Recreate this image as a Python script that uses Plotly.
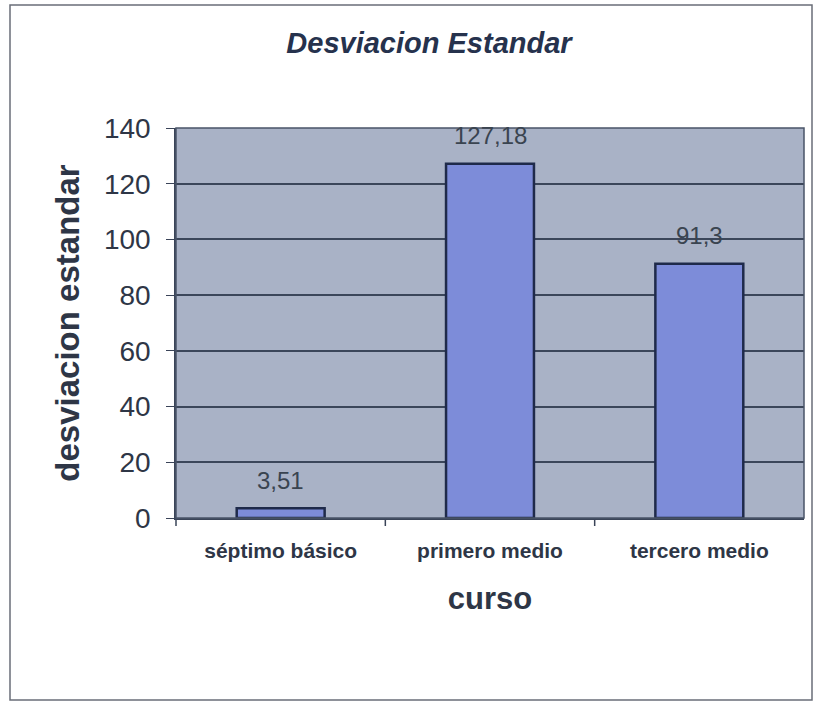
import plotly.graph_objects as go

# Standard deviation per course
cursos = ["séptimo básico", "primero medio", "tercero medio"]
desviacion = [3.51, 127.18, 91.3]
y_ticks = [0, 20, 40, 60, 80, 100, 120, 140]

etiquetas = [str(v).replace(".", ",") for v in desviacion]

FONT = "Liberation Sans, Arial, sans-serif"
W, H = 817, 703
L, R, T, B = 176, 13, 128, 185
pw, ph = W - L - R, H - T - B
Y_MAX = 140


def px_x(x):
    return (x - L) / pw


def px_y(y):
    return (H - B - y) / ph


fig = go.Figure(
    go.Bar(
        x=cursos,
        y=desviacion,
        width=0.42,
        marker=dict(color="#7d8cd9", line=dict(color="#1f2a4a", width=2.5)),
    )
)

# value labels above each bar
for c, v, t in zip(cursos, desviacion, etiquetas):
    fig.add_annotation(
        x=c, y=v, text=t, showarrow=False,
        xanchor="center", yanchor="middle", yshift=28,
        font=dict(family=FONT, size=24, color="#3a4450"),
    )

fig.update_layout(
    width=W,
    height=H,
    margin=dict(l=L, r=R, t=T, b=B),
    paper_bgcolor="white",
    plot_bgcolor="#a9b2c6",
    showlegend=False,
    title=dict(
        text="<b><i>Desviacion Estandar</i></b>",
        x=429 / W,
        xanchor="center",
        y=1 - 43 / H,
        yanchor="middle",
        font=dict(family=FONT, size=29, color="#26324d"),
    ),
)

fig.update_xaxes(
    type="category",
    showgrid=False,
    showline=True,
    linecolor="#3a4458",
    linewidth=1.5,
    ticks="",
    tickfont=dict(family=FONT, size=21, color="#2e3646"),
    tickvals=cursos,
    ticktext=[f"<b>{c}</b>" for c in cursos],
    title=dict(
        text="<b>curso</b>",
        font=dict(family=FONT, size=31, color="#2e3646"),
        standoff=26,
    ),
    ticklabelstandoff=13,
)

fig.update_yaxes(
    range=[0, Y_MAX],
    tickvals=y_ticks,
    showgrid=True,
    gridcolor="#3b465a",
    gridwidth=1.5,
    zeroline=False,
    showline=True,
    linecolor="#3a4458",
    linewidth=1.5,
    ticks="outside",
    ticklen=8,
    tickcolor="#3a4458",
    tickfont=dict(family=FONT, size=28, color="#2e3646"),
    ticklabelstandoff=10,
    title=dict(
        text="<b>desviacion estandar</b>",
        font=dict(family=FONT, size=33, color="#2e3646"),
        standoff=14,
    ),
)

# tick marks below the category axis at category boundaries
for b in [0.5, 1.5]:
    fig.add_shape(
        type="line", xref="x", yref="paper",
        x0=b, x1=b, y0=0, y1=-8 / ph,
        line=dict(color="#3a4458", width=1.5),
    )
fig.add_shape(
    type="line", xref="paper", yref="paper",
    x0=0, x1=0, y0=0, y1=-8 / ph,
    line=dict(color="#3a4458", width=1.5),
)

# plot area frame
fig.add_shape(
    type="rect", xref="paper", yref="paper",
    x0=0, x1=1, y0=0, y1=1,
    line=dict(color="#4a5468", width=1.5),
)

# outer chart frame
fig.add_shape(
    type="rect", xref="paper", yref="paper",
    x0=px_x(10), x1=px_x(812), y0=px_y(700), y1=px_y(5),
    line=dict(color="#6a6e78", width=1.5),
)

fig.write_html("out.html")
